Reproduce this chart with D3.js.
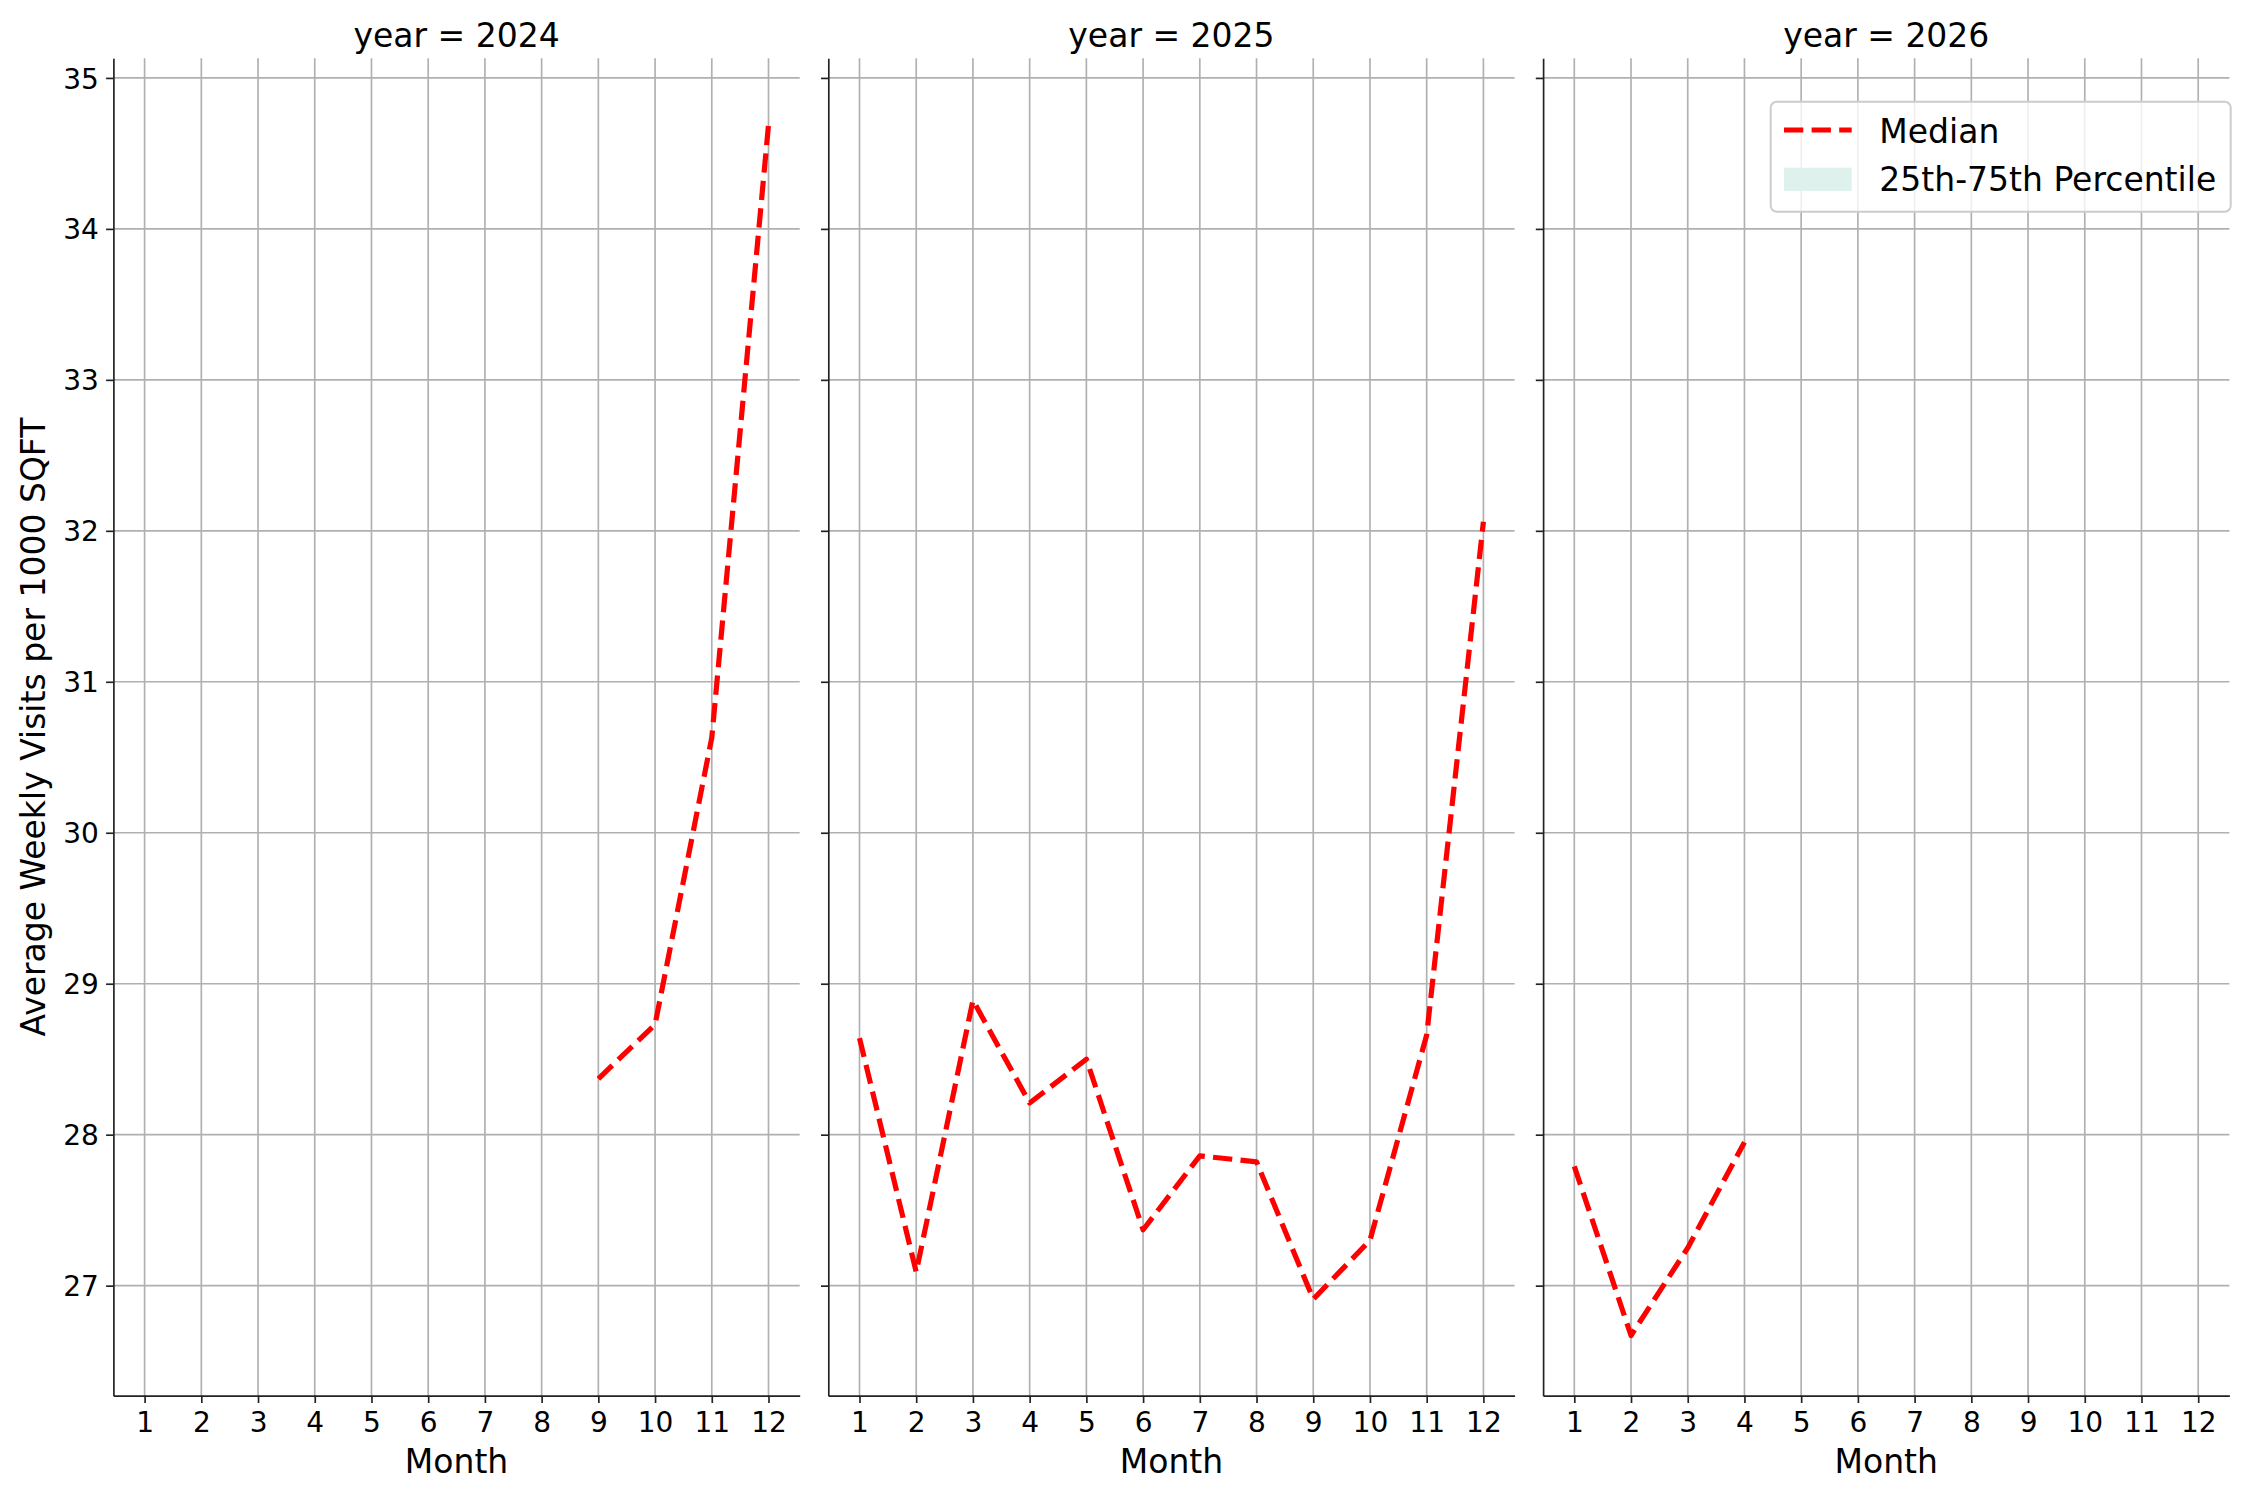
<!DOCTYPE html>
<html>
<head>
<meta charset="utf-8">
<script src="https://cdn.jsdelivr.net/npm/d3@7"></script>
<style>
  body { margin: 0; background: #fff; }
  svg { display: block; font-family: "DejaVu Sans", sans-serif; }
</style>
</head>
<body>
<script>
// data
var years = [2024, 2025, 2026]
var monthTicks = [1, 2, 3, 4, 5, 6, 7, 8, 9, 10, 11, 12]
var yTicks = [27, 28, 29, 30, 31, 32, 33, 34, 35]

var months2024 = [9, 10, 11, 12]
var median2024 = [28.37, 28.73, 30.63, 34.69]

var months2025 = [1, 2, 3, 4, 5, 6, 7, 8, 9, 10, 11, 12]
var median2025 = [28.64, 27.09, 28.89, 28.21, 28.50, 27.37, 27.86, 27.82, 26.91, 27.30, 28.66, 32.06]

var months2026 = [1, 2, 3, 4]
var median2026 = [27.79, 26.67, 27.25, 27.95]

var legendLabels = ["Median", "25th-75th Percentile"]

var series = [
    {year: years[0], months: months2024, median: median2024},
    {year: years[1], months: months2025, median: median2025},
    {year: years[2], months: months2026, median: median2026}
]

var width = 2250
var height = 1500
var panelLeft = [113.4, 828.3, 1543.1]
var panelWidth = 686.3
var plotTop = 58.3
var plotBottom = 1395.7

var tickLen = 7.3
var spineColor = "#222"
var gridColor = "#b0b0b0"

var svg = d3.select("body")
    .append("svg")
    .attr("width", width)
    .attr("height", height)

var y = d3.scaleLinear()
    .domain([26.271, 35.13])
    .range([plotBottom, plotTop])

series.forEach(function (s, i) {
    var x0 = panelLeft[i]
    var x = d3.scaleLinear()
        .domain([0.45, 12.55])
        .range([x0, x0 + panelWidth])

    var g = svg.append("g")

    // grid
    g.selectAll(".vgrid")
        .data(monthTicks)
        .enter()
        .append("line")
        .attr("x1", function (d) { return x(d) })
        .attr("x2", function (d) { return x(d) })
        .attr("y1", plotTop)
        .attr("y2", plotBottom)
        .attr("stroke", gridColor)
        .attr("stroke-width", 1.67)

    g.selectAll(".hgrid")
        .data(yTicks)
        .enter()
        .append("line")
        .attr("x1", x0)
        .attr("x2", x0 + panelWidth)
        .attr("y1", function (d) { return y(d) })
        .attr("y2", function (d) { return y(d) })
        .attr("stroke", gridColor)
        .attr("stroke-width", 1.67)

    // median line
    var line = d3.line()
        .x(function (d) { return x(d[0]) })
        .y(function (d) { return y(d[1]) })

    g.append("path")
        .datum(d3.zip(s.months, s.median))
        .attr("d", line)
        .attr("fill", "none")
        .attr("stroke", "red")
        .attr("stroke-width", 5.2)
        .attr("stroke-dasharray", "19.3,8.3")
        .attr("stroke-linejoin", "round")

    // axes
    var xAxis = d3.axisBottom(x)
        .tickValues(monthTicks)
        .tickSizeInner(tickLen)
        .tickSizeOuter(0)
        .tickPadding(7.3)

    var gx = g.append("g")
        .attr("transform", "translate(0," + plotBottom + ")")
        .call(xAxis)

    var yAxis = d3.axisLeft(y)
        .tickValues(yTicks)
        .tickSizeInner(tickLen)
        .tickSizeOuter(0)
        .tickPadding(7.3)

    var gy = g.append("g")
        .attr("transform", "translate(" + x0 + ",0)")
        .call(yAxis)

    if (i > 0) gy.selectAll(".tick text").remove()

    ;[gx, gy].forEach(function (a) {
        a.attr("font-size", null).attr("font-family", null)
        a.select(".domain").attr("stroke", spineColor).attr("stroke-width", 1.67)
        a.selectAll(".tick line").attr("stroke", spineColor).attr("stroke-width", 1.67)
        a.selectAll(".tick text")
            .attr("fill", "#000")
            .style("font-size", "28px")
    })
    gx.selectAll(".tick text").attr("dy", "0.76em")
    gy.selectAll(".tick text").attr("dy", "0.36em")

    // title
    g.append("text")
        .attr("x", x0 + panelWidth / 2)
        .attr("y", 47)
        .attr("text-anchor", "middle")
        .style("font-size", "33px")
        .text("year = " + s.year)

    g.append("text")
        .attr("x", x0 + panelWidth / 2)
        .attr("y", 1472.7)
        .attr("text-anchor", "middle")
        .style("font-size", "33px")
        .text("Month")
})

svg.append("text")
    .attr("transform", "translate(44.5," + ((plotTop + plotBottom) / 2) + ") rotate(-90)")
    .attr("text-anchor", "middle")
    .style("font-size", "33px")
    .text("Average Weekly Visits per 1000 SQFT")

// legend
var legend = svg.append("g")

legend.append("rect")
    .attr("x", 1770.7)
    .attr("y", 101.7)
    .attr("width", 460)
    .attr("height", 110)
    .attr("rx", 6)
    .attr("fill", "#fff")
    .attr("fill-opacity", 0.8)
    .attr("stroke", "#cccccc")
    .attr("stroke-width", 2)

legend.append("line")
    .attr("x1", 1784)
    .attr("x2", 1851.7)
    .attr("y1", 130)
    .attr("y2", 130)
    .attr("stroke", "red")
    .attr("stroke-width", 5.2)
    .attr("stroke-dasharray", "19.3,8.3")

legend.append("rect")
    .attr("x", 1784)
    .attr("y", 167.7)
    .attr("width", 67.7)
    .attr("height", 23.3)
    .attr("fill", "#dff1ec")

legend.selectAll(".ltext")
    .data(legendLabels)
    .enter()
    .append("text")
    .attr("x", 1879.3)
    .attr("y", function (d, i) { return i == 0 ? 142.7 : 191 })
    .style("font-size", "33px")
    .text(function (d) { return d })
</script>
</body>
</html>
